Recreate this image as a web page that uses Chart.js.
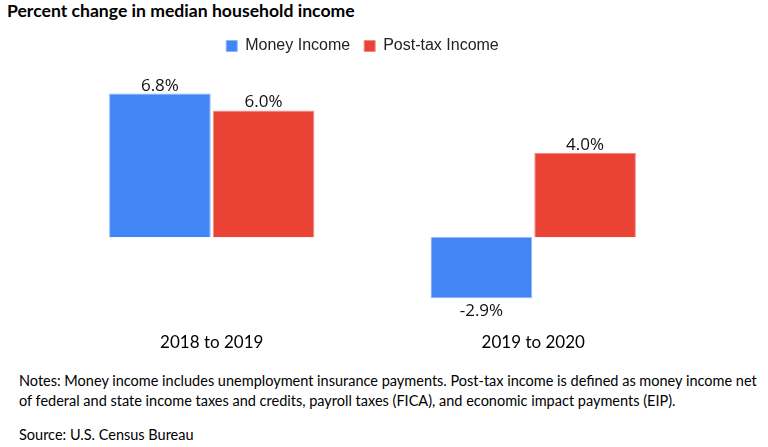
<!DOCTYPE html>
<html>
<head>
<meta charset="utf-8">
<script src="https://cdn.jsdelivr.net/npm/chart.js@4.4.0/dist/chart.umd.min.js"></script>
<style>
  body { margin: 0; background: #fff; }
  #wrap { position: relative; width: 768px; height: 447px; overflow: hidden; }
  #title { position: absolute; left: 7px; top: 0px; font: bold 17.6px Lato, sans-serif; color: #000; }
  #box { position: absolute; left: 0; top: 24px; width: 768px; height: 332px; }
  #notes { position: absolute; left: 19px; top: 371px; font: 14.5px Lato, sans-serif; line-height: 20px; color: #000; }
  #source { position: absolute; left: 19px; top: 426px; font: 14.5px Lato, sans-serif; color: #000; }
</style>
</head>
<body>
<div id="wrap">
  <div id="title">Percent change in median household income</div>
  <div id="box"><canvas id="myChart"></canvas></div>
  <div id="notes">Notes: Money income includes unemployment insurance payments. Post-tax income is defined as money income net<br>of federal and state income taxes and credits, payroll taxes (FICA), and economic impact payments (EIP).</div>
  <div id="source">Source: U.S. Census Bureau</div>
</div>
<script>
// dati
const periods = ["2018 to 2019", "2019 to 2020"];
const moneyIncome = [6.8, -2.9];
const postTaxIncome = [6.0, 4.0];
const seriesNames = ["Money Income", "Post-tax Income"];

// etichette sopra/sotto le barre
const valueLabels = {
  id: 'valueLabels',
  afterDatasetsDraw(chart) {
    const ctx = chart.ctx;
    ctx.save();
    ctx.font = '17px "Open Sans", sans-serif';
    ctx.fillStyle = '#111';
    ctx.textAlign = 'center';
    ctx.textBaseline = 'alphabetic';
    chart.data.datasets.forEach((ds, i) => {
      chart.getDatasetMeta(i).data.forEach((bar, j) => {
        const v = ds.data[j];
        const y = v >= 0 ? bar.y - 3 : bar.y + 18;
        ctx.fillText(v.toFixed(1) + '%', bar.x, y);
      });
    });
    ctx.restore();
  }
};

// sposta la legenda un po' a sinistra come nell'originale
const shiftLegend = {
  id: 'shiftLegend',
  afterLayout(chart) {
    chart.legend.left -= 10;
    chart.legend.right -= 10;
  }
};

let ctx = document.getElementById("myChart").getContext("2d");
let myChart = new Chart(ctx, {
  type: 'bar',
  data: {
    labels: periods,
    datasets: [
      { label: seriesNames[0], data: moneyIncome, backgroundColor: '#4285F4', borderColor: '#8fb4f8', borderWidth: 1 },
      { label: seriesNames[1], data: postTaxIncome, backgroundColor: '#EA4335', borderColor: '#f28a80', borderWidth: 1 }
    ]
  },
  options: {
    responsive: true,
    maintainAspectRatio: false,
    animation: false,
    layout: { padding: { left: 51, right: 74, top: 0, bottom: 0 } },
    datasets: { bar: { categoryPercentage: 0.645, barPercentage: 0.98 } },
    plugins: {
      legend: {
        position: 'top',
        labels: {
          boxWidth: 11, boxHeight: 11, padding: 14,
          font: { family: '"Liberation Sans", Arial, sans-serif', size: 16 },
          color: '#222'
        }
      },
      // spazio vuoto sotto la legenda
      subtitle: {
        display: true,
        text: ' ',
        position: 'top',
        weight: 500,
        font: { size: 1 },
        padding: { top: 0, bottom: 3 }
      },
      tooltip: { enabled: false }
    },
    scales: {
      x: {
        grid: { display: false },
        border: { display: false },
        ticks: { color: '#000', padding: 3, font: { family: 'Lato, sans-serif', size: 17 } }
      },
      y: {
        display: false,
        min: -4,
        max: 8
      }
    }
  },
  plugins: [valueLabels, shiftLegend]
});
</script>
</body>
</html>
